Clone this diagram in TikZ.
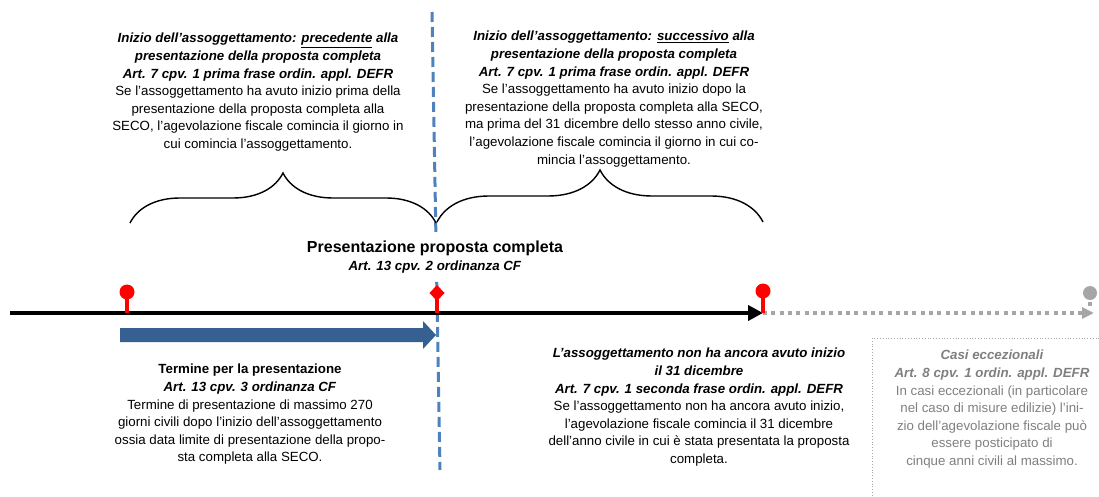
\documentclass[tikz,border=0pt]{standalone}
\usepackage{fontspec}
\setmainfont{Liberation Sans}
\usepackage{xcolor}
\usetikzlibrary{arrows.meta,decorations.pathreplacing,positioning}
\definecolor{bluedash}{RGB}{79,129,189}
\definecolor{bluearrow}{RGB}{55,96,146}
\definecolor{lightgrey}{RGB}{166,166,166}
\definecolor{textgrey}{RGB}{127,127,127}
\newcommand{\bfit}[1]{\textbf{\textit{#1}}}

\begin{document}
\begin{tikzpicture}[x=1pt,y=-1pt,
    txt/.style={align=center,inner sep=0pt,anchor=north,font=\fontsize{13.3}{17.6}\selectfont},
    pinline/.style={red,line width=4pt},
    brc/.style={decorate,decoration={brace,amplitude=#1},line width=1.4pt}]
	\useasboundingbox (0,0) rectangle (1099,497);
	\clip (0,0) rectangle (1099,497);
	% points on the time axis
	\coordinate (t0) at (10,313);
	\coordinate (t1) at (127,313);
	\coordinate (t2) at (437,313);
	\coordinate (t3) at (763,313);
	\coordinate (t4) at (1094,313);
	\coordinate (p1) at (127,292);
	\coordinate (p2) at (437,293);
	\coordinate (p3) at (763,291);
	\coordinate (p4) at (1090,293);
	\coordinate (dtop) at (432,12);
	\coordinate (dbot) at (440,470);

	\draw[bluedash,line width=3pt,dash pattern=on 10pt off 5pt] (dtop) -- (dbot);
	\fill[bluearrow] (120,328) -- (423,328) -- (423,321) -- (436,335) -- (423,349) -- (423,342) -- (120,342) -- cycle;
	\draw[line width=4pt,-{Triangle[length=15pt,width=15pt]}] (t0) -- (t3);
	\draw[lightgrey,line width=3.3pt,dash pattern=on 4pt off 4.3pt,-{Triangle[length=12pt,width=11pt]}] (t3) -- (t4);

	% pins
	\draw[pinline] (t1) -- (p1);
	\fill[red] (p1) circle (7.5);
	\draw[pinline] (t2) -- (p2);
	\fill[red,shift={(p2)}] (0,-8) -- (7.5,0) -- (0,8) -- (-7.5,0) -- cycle;
	\draw[pinline] (t3) -- (p3);
	\fill[red] (p3) circle (7.5);
	\fill[lightgrey] (p4) circle (7);
	\fill[lightgrey] (1088,302) rectangle (1092,306);

	% braces
	\draw[brc=50pt] (130,223) -- (436,223);
	\draw[brc=52pt] (437,222) -- (763,222);

	\node[txt] (pre) at (258,33) {\bfit{Inizio dell’assoggettamento: \underline{precedente} alla}\\
		\bfit{presentazione della proposta completa}\\
		\bfit{Art. 7 cpv. 1 prima frase ordin. appl. DEFR}\\
		Se l’assoggettamento ha avuto inizio prima della\\
		presentazione della proposta completa alla\\
		SECO, l’agevolazione fiscale comincia il giorno in\\
		cui comincia l’assoggettamento.};
	\node[txt] (succ) at (614,31) {\bfit{Inizio dell’assoggettamento: \underline{successivo} alla}\\
		\bfit{presentazione della proposta completa}\\
		\bfit{Art. 7 cpv. 1 prima frase ordin. appl. DEFR}\\
		Se l’assoggettamento ha avuto inizio dopo la\\
		presentazione della proposta completa alla SECO,\\
		ma prima del 31 dicembre dello stesso anno civile,\\
		l’agevolazione fiscale comincia il giorno in cui co-\\
		mincia l’assoggettamento.};
	\node[txt,fill=white,inner ysep=5pt,inner xsep=2pt] (pres) at (435,236) {{\fontsize{16}{18}\selectfont\bfseries Presentazione proposta completa}\\
		\bfit{Art. 13 cpv. 2 ordinanza CF}};
	\node[txt] (term) at (250,364) {\textbf{Termine per la presentazione}\\
		\bfit{Art. 13 cpv. 3 ordinanza CF}\\
		Termine di presentazione di massimo 270\\
		giorni civili dopo l’inizio dell’assoggettamento\\
		ossia data limite di presentazione della propo-\\
		sta completa alla SECO.};
	\node[txt] (dic) at (699,348) {\bfit{L’assoggettamento non ha ancora avuto inizio}\\
		\bfit{il 31 dicembre}\\
		\bfit{Art. 7 cpv. 1 seconda frase ordin. appl. DEFR}\\
		Se l’assoggettamento non ha ancora avuto inizio,\\
		l’agevolazione fiscale comincia il 31 dicembre\\
		dell’anno civile in cui è stata presentata la proposta\\
		completa.};

	% exceptional cases
	\draw[lightgrey,line width=0.8pt,dotted] (872,338) rectangle (1120,520);
	\node[txt,textgrey] (casi) at (992,350) {\bfit{Casi eccezionali}\\
		\bfit{Art. 8 cpv. 1 ordin. appl. DEFR}\\
		In casi eccezionali (in particolare\\
		nel caso di misure edilizie) l’ini-\\
		zio dell’agevolazione fiscale può\\
		essere posticipato di\\
		cinque anni civili al massimo.};
\end{tikzpicture}
\end{document}
